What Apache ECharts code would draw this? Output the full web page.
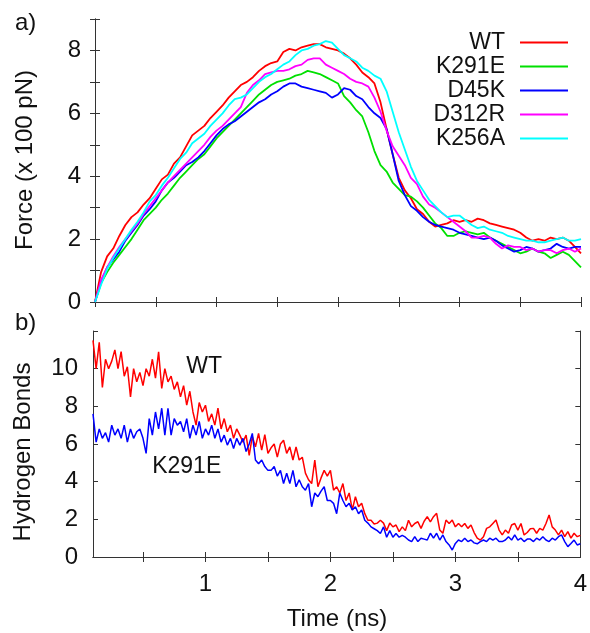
<!DOCTYPE html>
<html>
<head>
<meta charset="utf-8">
<title>Force and hydrogen bonds</title>
<script src="https://cdn.jsdelivr.net/npm/echarts@6/dist/echarts.min.js"></script>
<style>
  html, body { margin: 0; padding: 0; background: #fff; }
  #chart { width: 590px; height: 633px; }
</style>
</head>
<body>
<div id="chart"></div>
<script>
// ---- panel a) : force, sampled every 0.05 ns from 0 to 4 ns
var forceStep = 0.05;
var wtForce = [0,0.95,1.45,1.7,2.1,2.45,2.7,2.85,3.1,3.3,
  3.6,3.9,4.05,4.4,4.6,4.95,5.3,5.45,5.6,5.85,
  6.05,6.25,6.5,6.7,6.9,7.0,7.15,7.35,7.5,7.6,
  7.65,7.95,8.05,8.0,8.1,8.15,8.2,8.2,8.1,8.05,
  8.0,7.9,7.75,7.55,7.3,7.15,6.95,6.35,5.5,4.7,
  3.95,3.55,3.3,2.95,2.8,2.55,2.4,2.45,2.5,2.6,
  2.55,2.6,2.55,2.65,2.6,2.5,2.45,2.4,2.35,2.3,
  2.2,2.05,1.95,2.0,1.95,2.05,2.0,2.05,1.95,1.75,
  1.55];
var k291eForce = [0,0.6,0.95,1.25,1.5,1.75,2.0,2.3,2.6,2.8,
  3.0,3.25,3.45,3.7,3.95,4.15,4.35,4.55,4.7,4.95,
  5.2,5.4,5.6,5.8,6.0,6.2,6.4,6.6,6.75,6.9,
  7.0,7.05,7.1,7.2,7.25,7.35,7.3,7.25,7.15,7.05,
  6.95,6.55,6.35,6.1,5.9,5.4,4.8,4.35,4.15,3.8,
  3.6,3.4,3.35,3.2,3.0,2.75,2.5,2.35,2.1,2.1,
  2.2,2.25,2.2,2.15,2.2,2.05,1.95,1.85,1.75,1.65,
  1.55,1.6,1.7,1.6,1.55,1.4,1.5,1.6,1.5,1.3,
  1.1];
var d45kForce = [0,0.65,1.1,1.35,1.6,1.95,2.2,2.45,2.75,2.95,
  3.2,3.55,3.8,3.95,4.15,4.35,4.45,4.6,4.8,5.05,
  5.3,5.5,5.65,5.75,5.9,6.05,6.2,6.35,6.45,6.6,
  6.7,6.85,6.95,6.95,6.85,6.8,6.75,6.7,6.65,6.5,
  6.6,6.8,6.75,6.55,6.45,6.2,6.0,5.85,5.5,4.7,
  3.85,3.4,3.05,2.9,2.7,2.55,2.45,2.4,2.35,2.3,
  2.2,2.15,2.1,2.05,2.0,2.05,1.95,1.8,1.7,1.6,
  1.65,1.75,1.7,1.6,1.65,1.7,1.85,1.75,1.7,1.75,
  1.75];
var d312rForce = [0,0.7,1.1,1.45,1.75,2.0,2.25,2.5,2.8,3.05,
  3.3,3.55,3.8,4.0,4.2,4.4,4.6,4.8,5.0,5.25,
  5.45,5.6,5.8,6.0,6.2,6.65,6.9,7.05,7.25,7.3,
  7.35,7.35,7.4,7.5,7.55,7.7,7.75,7.75,7.55,7.45,
  7.35,7.25,7.1,7.0,6.95,6.85,6.5,6.05,5.45,4.95,
  4.65,4.35,3.95,3.75,3.35,3.1,3.0,2.85,2.7,2.55,
  2.4,2.25,2.05,2.05,2.1,2.05,1.85,1.7,1.8,1.75,
  1.75,1.65,1.7,1.6,1.65,1.65,1.55,1.65,1.7,1.6,
  1.7];
var k256aForce = [0,0.55,1.05,1.4,1.7,2.0,2.3,2.55,2.85,3.2,
  3.4,3.7,3.95,4.25,4.55,4.75,5.05,5.2,5.35,5.6,
  5.8,6.0,6.25,6.45,6.5,6.6,6.8,7.0,7.15,7.25,
  7.4,7.55,7.65,7.85,8.0,8.05,8.15,8.2,8.3,8.25,
  8.05,7.85,7.75,7.65,7.45,7.35,7.2,7.1,6.7,6.05,
  5.4,4.85,4.3,3.85,3.55,3.25,3.05,2.85,2.7,2.75,
  2.75,2.6,2.45,2.35,2.4,2.3,2.25,2.2,2.1,2.05,
  2.0,1.95,1.95,1.9,1.9,1.95,2.0,2.05,1.95,1.95,
  2.0];

// ---- panel b) : hydrogen bonds, sampled every 0.025 ns from 0.1 to 4 ns
var hbStart = 0.1, hbStep = 0.025;
var wtHB = [11.5,10.0,11.4,9.0,10.5,10.0,10.4,11.0,10.0,10.9,
  9.6,10.1,8.5,10.0,9.3,9.8,9.1,10.0,9.6,10.5,
  9.5,10.9,8.95,10.0,9.3,9.6,8.9,9.3,8.5,9.1,
  8.06,8.8,7.7,7.0,8.2,7.7,8.06,7.2,7.6,7.0,
  7.9,6.8,7.35,6.65,7.0,6.3,6.8,6.47,6.1,6.47,
  5.4,6.4,5.85,6.56,5.68,6.5,5.5,5.8,6.0,5.3,
  6.0,6.2,5.5,5.85,5.15,5.85,5.15,5.3,4.45,4.1,
  3.9,5.15,3.73,4.2,4.6,4.3,4.6,3.55,3.73,3.4,
  3.9,3.0,3.4,2.5,3.2,2.67,2.85,2.3,1.95,1.95,
  1.75,1.8,1.95,1.8,1.4,1.8,1.6,1.7,1.35,1.6,
  1.4,1.95,1.6,1.78,1.87,1.52,1.9,2.14,1.87,2.14,
  2.32,1.43,1.26,1.96,1.78,1.96,1.6,1.78,1.6,1.78,
  1.52,1.7,1.3,1.0,0.9,1.08,1.52,1.6,1.78,1.96,
  1.43,1.17,1.43,1.26,1.7,1.78,1.43,1.78,1.17,1.3,
  1.5,1.52,1.26,1.52,1.43,1.78,2.23,1.6,1.43,1.17,
  1.43,1.08,1.35,1.0,1.26,1.08,1.15];
var k291eHB = [7.6,6.1,6.8,6.3,6.6,6.1,7.0,6.47,6.8,6.3,
  7.0,6.1,6.8,6.3,6.65,6.8,6.3,5.5,7.35,6.47,
  7.7,6.8,7.9,6.47,7.9,6.47,7.35,7.0,7.2,6.65,
  7.35,6.3,7.0,6.47,7.2,6.3,6.8,6.47,7.0,6.3,
  6.8,6.1,6.47,5.94,6.3,5.76,6.3,5.94,6.3,5.6,
  6.0,6.56,5.15,4.95,5.15,4.8,4.6,4.6,4.8,4.3,
  4.6,3.9,4.45,3.9,4.6,3.73,4.1,3.73,3.55,3.9,
  2.67,3.4,3.2,3.5,3.73,3.0,3.0,2.85,2.3,3.4,
  3.0,2.67,2.85,2.5,2.67,2.3,2.5,1.95,1.8,1.6,
  1.5,1.4,1.25,1.6,1.05,1.4,1.05,1.25,1.05,1.15,
  1.05,0.9,0.82,1.08,0.82,1.0,0.95,0.9,1.26,1.0,
  1.26,0.9,1.17,0.82,0.64,0.37,0.72,0.9,0.82,1.0,
  0.82,0.9,0.75,0.7,0.82,0.9,0.82,1.0,0.9,1.0,
  0.82,0.82,0.9,1.08,0.9,1.17,0.9,1.0,0.82,0.95,
  0.95,0.82,1.0,0.9,1.08,0.9,0.82,1.0,0.9,1.08,
  1.17,0.82,0.55,0.72,0.9,0.64,0.7];

var forceNames = ['WT', 'K291E', 'D45K', 'D312R', 'K256A'];
var forceColors = ['#ff0000', '#00e000', '#0000ff', '#ff00ff', '#00ffff'];
var forceTicksY = [0, 2, 4, 6, 8];
var hbTicksX = [0.5, 1, 1.5, 2, 2.5, 3, 3.5];
var hbLabelsX = [1, 2, 3, 4];

function pairs(vals, t0, dt) {
    return vals.map(function (v, i) { return [+(t0 + i * dt).toFixed(3), v]; });
}

var FONT = "'Liberation Sans', Arial, sans-serif";
var frame = { show: true, lineStyle: { color: '#333', width: 1 } };
var tickIn = { show: true, inside: true, length: 5, lineStyle: { color: '#333' } };
var lbl = { color: '#111', fontSize: 24, fontFamily: FONT };

var chart = echarts.init(document.getElementById('chart'));

var forceSeries = [wtForce, k291eForce, d45kForce, d312rForce, k256aForce].map(function (arr, i) {
    return {
        name: forceNames[i], type: 'line', xAxisIndex: 0, yAxisIndex: 0,
        data: pairs(arr, 0, forceStep), showSymbol: false, symbol: 'none',
        lineStyle: { color: forceColors[i], width: 1.8 }, itemStyle: { color: forceColors[i] },
        z: 2 + i
    };
});

chart.setOption({
    animation: false,
    backgroundColor: '#fff',
    textStyle: { fontFamily: FONT },
    grid: [
        { left: 95, right: 9, top: 19, height: 283 },
        { left: 93, right: 8, top: 331, height: 226 }
    ],
    legend: {
        data: forceNames, orient: 'vertical', align: 'right',
        right: 22, top: 31, padding: 0, itemGap: 1,
        itemWidth: 48, itemHeight: 2, icon: 'rect',
        textStyle: { color: '#111', fontSize: 23, fontFamily: FONT, padding: [0, 10, 0, 0] }
    },
    xAxis: [
        { type: 'value', gridIndex: 0, min: 0, max: 4, interval: 0.5, position: 'bottom',
          axisLine: frame, axisTick: tickIn, axisLabel: { show: false }, splitLine: { show: false } },
        { type: 'value', gridIndex: 0, min: 0, max: 4, interval: 0.5, position: 'top',
          axisLine: frame, axisTick: tickIn, axisLabel: { show: false }, splitLine: { show: false } },
        { type: 'value', gridIndex: 1, min: hbStart, max: 4, position: 'bottom',
          axisLine: frame, axisTick: Object.assign({ customValues: hbTicksX }, tickIn),
          axisLabel: Object.assign({ customValues: hbLabelsX, margin: 15 }, lbl), splitLine: { show: false } },
        { type: 'value', gridIndex: 1, min: hbStart, max: 4, position: 'top',
          axisLine: frame, axisTick: Object.assign({ customValues: hbTicksX }, tickIn),
          axisLabel: { show: false }, splitLine: { show: false } }
    ],
    yAxis: [
        { type: 'value', gridIndex: 0, min: 0, max: 9, interval: 1, position: 'left',
          axisLine: frame, axisTick: tickIn,
          axisLabel: Object.assign({ margin: 14, formatter: function (v) { return forceTicksY.indexOf(v) >= 0 ? String(v) : ''; } }, lbl),
          splitLine: { show: false } },
        { type: 'value', gridIndex: 0, min: 0, max: 9, interval: 1, position: 'right',
          axisLine: frame, axisTick: tickIn, axisLabel: { show: false }, splitLine: { show: false } },
        { type: 'value', gridIndex: 1, min: 0, max: 12, interval: 2, position: 'left',
          axisLine: frame, axisTick: tickIn,
          axisLabel: Object.assign({ margin: 15, formatter: function (v) { return v < 12 ? String(v) : ''; } }, lbl),
          splitLine: { show: false } },
        { type: 'value', gridIndex: 1, min: 0, max: 12, interval: 2, position: 'right',
          axisLine: frame, axisTick: tickIn, axisLabel: { show: false }, splitLine: { show: false } }
    ],
    graphic: [
        { type: 'text', left: 15, top: 11, style: { text: 'a)', font: '24px ' + FONT, fill: '#111' } },
        { type: 'text', left: 15, top: 311, style: { text: 'b)', font: '24px ' + FONT, fill: '#111' } },
        { type: 'text', x: 25, y: 160, rotation: Math.PI / 2,
          style: { text: 'Force (x 100 pN)', font: '24px ' + FONT, fill: '#111', align: 'center', verticalAlign: 'middle' } },
        { type: 'text', x: 23, y: 452, rotation: Math.PI / 2,
          style: { text: 'Hydrogen Bonds', font: '24px ' + FONT, fill: '#111', align: 'center', verticalAlign: 'middle' } },
        { type: 'text', x: 337, y: 619,
          style: { text: 'Time (ns)', font: '24px ' + FONT, fill: '#111', align: 'center', verticalAlign: 'middle' } }
    ],
    series: forceSeries.concat([
        { name: 'WT HB', type: 'line', xAxisIndex: 2, yAxisIndex: 2,
          data: pairs(wtHB, hbStart, hbStep), showSymbol: false, symbol: 'none',
          lineStyle: { color: '#ff0000', width: 1.5 },
          markPoint: { symbol: 'circle', symbolSize: 1, itemStyle: { color: 'rgba(0,0,0,0)' },
              label: { show: true, position: 'inside', formatter: 'WT', color: '#111', fontSize: 23, fontFamily: FONT },
              data: [{ coord: [0.99, 10.1] }] } },
        { name: 'K291E HB', type: 'line', xAxisIndex: 2, yAxisIndex: 2,
          data: pairs(k291eHB, hbStart, hbStep), showSymbol: false, symbol: 'none',
          lineStyle: { color: '#0000ff', width: 1.5 },
          markPoint: { symbol: 'circle', symbolSize: 1, itemStyle: { color: 'rgba(0,0,0,0)' },
              label: { show: true, position: 'inside', formatter: 'K291E', color: '#111', fontSize: 23, fontFamily: FONT },
              data: [{ coord: [0.85, 4.8] }] } }
    ])
});
</script>
</body>
</html>
